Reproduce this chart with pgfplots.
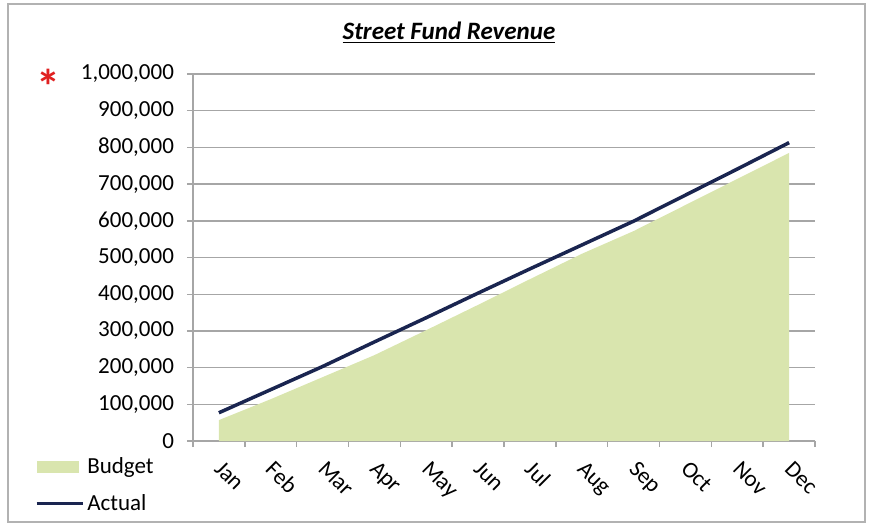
\documentclass[border=0pt]{standalone}
\usepackage{fontspec}
\setmainfont{Carlito}
\usepackage{pgfplots}
\pgfplotsset{compat=1.18}
\definecolor{budget}{HTML}{D9E5AE}
\definecolor{actual}{HTML}{1A2550}
\definecolor{gridc}{HTML}{A6A6A6}
\definecolor{starred}{HTML}{E02020}

\begin{document}
\begin{tikzpicture}[px/.style={x=0.5pt,y=-0.5pt,shift={(-96.5pt,220.5pt)}}]
\begin{scope}[px]
  \path[use as bounding box] (0,0) rectangle (870,527);
\end{scope}
\begin{axis}[at={(0,0)}, anchor=south west, scale only axis,
  width=311pt, height=183.5pt,
  xmin=-0.5, xmax=11.5, ymin=0, ymax=1000000,
  axis x line*=bottom, axis y line*=left,
  axis line style={-, draw=gridc, line width=0.7pt},
  xtick={0,...,11},
  xticklabels={Jan,Feb,Mar,Apr,May,Jun,Jul,Aug,Sep,Oct,Nov,Dec},
  major x tick style={draw=none},
  minor xtick={-0.5,0.5,...,11.5},
  tick align=outside, major tick length=3pt, minor tick length=3pt,
  tick style={gridc, line width=0.7pt},
  xticklabel style={font=\fontsize{11.5}{13}\selectfont, xshift=2.5pt, yshift=-6pt, rotate=-45, anchor=north west, inner sep=0pt},
  ytick={0,100000,...,1000000},
  scaled y ticks=false,
  yticklabel style={font=\fontsize{11.5}{13}\selectfont,
    /pgf/number format/fixed, /pgf/number format/1000 sep={,},
    /pgf/number format/assume math mode=true, xshift=-3pt},
  ymajorgrids, grid style={gridc, line width=0.7pt},
  legend style={at={(axis description cs:-0.255,-0.035)}, anchor=north west,
    draw=none, fill=none, font=\fontsize{11.5}{13}\selectfont, inner sep=0pt,
    row sep=6pt, nodes={inner sep=1.5pt}},
  legend cell align=left,
]
\addplot[fill=budget, draw=none,
  legend image code/.code={\fill[budget] (0pt,-3pt) rectangle (21pt,3pt);}]
  coordinates {(0,57000) (1,114000) (2,174000) (3,234000) (4,302000) (5,371000)
   (6,441000) (7,510000) (8,572000) (9,643000) (10,714000) (11,785000)} \closedcycle;
\addlegendentry{Budget}
\addplot[actual, line width=1.75pt, line join=round,
  legend image code/.code={\draw[actual, line width=1.75pt] (0pt,0pt) -- (23pt,0pt);}]
  coordinates {(0,77000) (1,140000) (2,203000) (3,270000) (4,336000) (5,403000)
   (6,469000) (7,534000) (8,599000) (9,670000) (10,741000) (11,813000)};
\addlegendentry{Actual}
\end{axis}
\begin{scope}[px]
  \draw[gray!60, line width=0.8pt] (8,4) rectangle (865,522);
  \node at (449,33) {\fontsize{12.5}{15}\selectfont\underline{\textbf{\textit{Street Fund Revenue}}}};
  \node[text=starred, anchor=base, inner sep=0pt] at (48,103) {\fontsize{24}{24}\selectfont\bfseries *};
\end{scope}
\end{tikzpicture}
\end{document}
